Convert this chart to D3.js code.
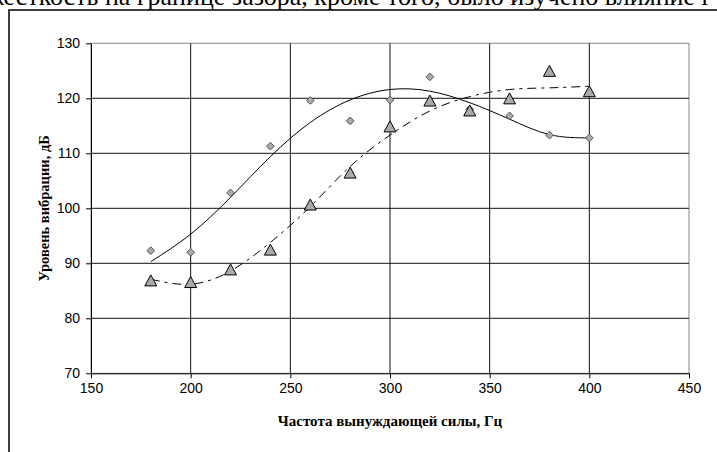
<!DOCTYPE html>
<html>
<head>
<meta charset="utf-8">
<script src="https://cdn.jsdelivr.net/npm/d3@7"></script>
<style>
  body { margin: 0; background: #fff; overflow: hidden; }
  svg { display: block; }
</style>
</head>
<body>
<div id="chart"></div>
<script>
// frequency of the driving force, Hz
const freq = [180, 200, 220, 240, 260, 280, 300, 320, 340, 360, 380, 400];
// measured vibration level, dB (diamonds / triangles)
const levelA = [92.3, 92, 102.8, 111.3, 119.6, 115.9, 119.7, 123.9, 118, 116.8, 113.3, 112.8];
const levelB = [86.8, 86.5, 88.8, 92.4, 100.6, 106.4, 114.8, 119.5, 117.7, 119.9, 124.9, 121.2];
// trend curves
const trendA = [90.3, 95.3, 102.0, 109.4, 115.6, 119.7, 121.6, 121.3, 119.2, 116.2, 113.4, 112.8];
const trendB = [87.1, 86.2, 88.6, 93.8, 100.3, 107.6, 113.3, 117.7, 120.3, 121.6, 121.9, 122.2];

const xTicks = [150, 200, 250, 300, 350, 400, 450];
const yTicks = [70, 80, 90, 100, 110, 120, 130];

const width = 717, height = 452;
const plot = { left: 91, right: 689, top: 43.3, bottom: 373.3 };

const svg = d3.select("#chart").append("svg")
    .attr("width", width)
    .attr("height", height);

// text line of the page above the chart (cut off by the top edge, as in the scan)
svg.append("text")
    .attr("x", -14)
    .attr("y", 5)
    .attr("font-family", "'Liberation Serif', 'Times New Roman', serif")
    .attr("font-size", 26)
    .text("жесткость на границе зазора, кроме того, было изучено влияние г");

// chart frame
svg.append("rect")
    .attr("x", 9)
    .attr("y", 10)
    .attr("width", 760)
    .attr("height", 500)
    .attr("fill", "#fff")
    .attr("stroke", "#000")
    .attr("stroke-width", 1.5);

const x = d3.scaleLinear().domain([150, 450]).range([plot.left, plot.right]);
const y = d3.scaleLinear().domain([70, 130]).range([plot.bottom, plot.top]);

// plot area border
svg.append("rect")
    .attr("x", plot.left)
    .attr("y", plot.top)
    .attr("width", plot.right - plot.left)
    .attr("height", plot.bottom - plot.top)
    .attr("fill", "none")
    .attr("stroke", "#888")
    .attr("stroke-width", 1);

// gridlines
svg.append("g")
    .selectAll("line")
    .data(xTicks.filter(d => d > 150 && d < 450))
    .enter().append("line")
    .attr("x1", d => x(d)).attr("x2", d => x(d))
    .attr("y1", plot.top).attr("y2", plot.bottom)
    .attr("stroke", "#111")
    .attr("stroke-width", 1);

svg.append("g")
    .selectAll("line")
    .data(yTicks.filter(d => d > 70 && d < 130))
    .enter().append("line")
    .attr("x1", plot.left).attr("x2", plot.right)
    .attr("y1", d => y(d)).attr("y2", d => y(d))
    .attr("stroke", "#111")
    .attr("stroke-width", 1);

// axes
const xAxis = svg.append("g")
    .attr("transform", `translate(0,${plot.bottom})`)
    .call(d3.axisBottom(x).tickValues(xTicks).tickSize(5).tickPadding(5).tickSizeOuter(0));
const yAxis = svg.append("g")
    .attr("transform", `translate(${plot.left},0)`)
    .call(d3.axisLeft(y).tickValues(yTicks).tickSize(5).tickPadding(6).tickSizeOuter(0));

[xAxis, yAxis].forEach(g => {
    g.selectAll("path").attr("stroke", "#000");
    g.selectAll("line").attr("stroke", "#000");
    g.selectAll("text")
        .attr("fill", "#000")
        .attr("font-family", "'Liberation Sans', Arial, sans-serif")
        .attr("font-size", 14);
});

// axis titles
svg.append("text")
    .attr("x", (plot.left + plot.right) / 2)
    .attr("y", 426)
    .attr("text-anchor", "middle")
    .attr("font-family", "'Liberation Serif', 'Times New Roman', serif")
    .attr("font-weight", "bold")
    .attr("font-size", 15)
    .text("Частота вынуждающей силы, Гц");

svg.append("text")
    .attr("transform", `translate(49,${(plot.top + plot.bottom) / 2}) rotate(-90)`)
    .attr("text-anchor", "middle")
    .attr("font-family", "'Liberation Serif', 'Times New Roman', serif")
    .attr("font-weight", "bold")
    .attr("font-size", 14.5)
    .text("Уровень вибрации, дБ");

// trend curves
const line = d3.line()
    .x((d, i) => x(freq[i]))
    .y(d => y(d))
    .curve(d3.curveNatural);

svg.append("path")
    .attr("d", line(trendA))
    .attr("fill", "none")
    .attr("stroke", "#000")
    .attr("stroke-width", 1);

svg.append("path")
    .attr("d", line(trendB))
    .attr("fill", "none")
    .attr("stroke", "#000")
    .attr("stroke-width", 1)
    .attr("stroke-dasharray", "9,5,3,5");

// diamonds
svg.append("g")
    .selectAll("path")
    .data(levelA)
    .enter().append("path")
    .attr("d", d3.symbol().type(d3.symbolDiamond2).size(38))
    .attr("transform", (d, i) => `translate(${x(freq[i])},${y(d)})`)
    .attr("fill", "#aaa")
    .attr("stroke", "#555")
    .attr("stroke-width", 1);

// triangles
const tri = (cx, cy) => `M${cx},${cy - 6}L${cx + 6},${cy + 5}L${cx - 6},${cy + 5}Z`;
svg.append("g")
    .selectAll("path")
    .data(levelB)
    .enter().append("path")
    .attr("d", (d, i) => tri(x(freq[i]), y(d)))
    .attr("fill", "#aaa")
    .attr("stroke", "#000")
    .attr("stroke-width", 1);
</script>
</body>
</html>
